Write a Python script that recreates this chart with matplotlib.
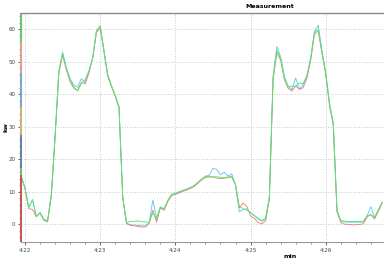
import matplotlib
matplotlib.use("Agg")
import matplotlib.pyplot as plt
import numpy as np
from matplotlib.ticker import MultipleLocator, FuncFormatter

# sample times, seconds after 4:22:00 (one reading every 3 s)
t_start = -3
t_step = 3

red_kw = [14.6, 11.0, 4.8, 4.5, 2.3, 3.4, 1.2, 0.7, 8.5, 26.5,
          46.5, 52.0, 47.5, 43.8, 41.8, 41.2, 43.6, 43.2, 46.5, 51.0,
          59.0, 60.3, 53.0, 45.5, 42.3, 39.3, 35.8, 8.0, 0.2, -0.4,
          -0.5, -0.7, -0.9, -0.9, 0.2, 4.3, 0.6, 5.0, 4.3, 7.0,
          8.8, 9.2, 9.6, 10.1, 10.5, 11.0, 11.6, 12.6, 13.6, 14.4,
          14.5, 14.6, 14.2, 14.0, 14.2, 14.3, 14.5, 12.0, 5.0, 6.5,
          5.5, 2.5, 1.8, 0.5, 0.1, 1.0, 7.5, 44.5, 52.7, 50.5,
          44.5, 41.8, 41.0, 42.6, 41.5, 42.0, 45.0, 50.5, 58.5, 59.5,
          52.5, 46.0, 36.5, 30.5, 3.8, 0.5, 0.0, -0.1, -0.2, -0.2,
          -0.1, 0.1, 2.2, 3.0, 1.6, 4.0, 6.5]

blue_kw = [14.6, 11.2, 5.2, 7.6, 2.4, 3.6, 1.5, 1.1, 9.0, 27.0,
           47.0, 53.0, 48.0, 44.8, 42.8, 42.2, 44.8, 43.6, 47.0, 51.2,
           59.4, 61.0, 53.6, 46.0, 42.6, 39.6, 36.2, 8.2, 0.3, -0.2,
           -0.3, -0.4, -0.5, -0.5, 0.4, 7.4, 1.8, 5.3, 4.6, 7.2,
           9.0, 9.3, 9.8, 10.3, 10.7, 11.2, 11.8, 12.8, 13.8, 14.8,
           15.0, 17.2, 16.8, 15.2, 16.0, 14.8, 15.5, 12.0, 3.8, 4.5,
           4.7, 3.5, 2.6, 1.6, 0.9, 1.6, 8.0, 45.5, 54.7, 51.5,
           45.5, 42.5, 41.4, 45.0, 41.5, 43.0, 45.5, 51.0, 59.3, 61.3,
           53.5, 46.5, 37.0, 31.0, 4.0, 1.0, 0.7, 0.6, 0.6, 0.6,
           0.6, 0.7, 2.5, 5.4, 2.0, 4.3, 6.7]

green_kw = [14.6, 11.0, 5.0, 7.5, 2.3, 3.5, 1.3, 1.0, 9.2, 27.2,
            47.2, 52.6, 48.2, 44.4, 42.2, 41.0, 43.4, 44.5, 47.2, 51.0,
            59.6, 61.0, 53.4, 46.0, 42.6, 39.6, 36.2, 8.4, 0.6, 0.8,
            0.9, 1.0, 0.8, 0.7, 0.6, 3.4, 1.6, 5.2, 4.7, 7.4,
            9.2, 9.6, 10.0, 10.4, 10.8, 11.3, 11.9, 12.9, 13.9, 14.7,
            14.6, 14.5, 14.6, 14.4, 14.3, 14.5, 14.8, 12.2, 5.5, 4.8,
            4.3, 3.6, 2.7, 1.8, 1.1, 1.8, 8.5, 45.2, 53.5, 51.0,
            45.0, 42.3, 42.5, 42.5, 43.5, 43.2, 45.8, 51.2, 59.0, 60.0,
            53.0, 46.5, 37.2, 31.2, 4.3, 1.2, 0.9, 0.8, 0.8, 0.8,
            0.8, 0.9, 2.6, 2.8, 2.1, 4.4, 6.8]

# coloured pieces of the stacked left axis line (value ranges)
axis_bands = [(56, 65, '#6cc46c'), (46.6, 56, '#e0a090'), (36, 46.6, '#78a8cc'),
              (27.5, 36, '#c8b478'), (17.3, 27.5, '#6a84a4'), (15, 17.3, '#6cc46c'),
              (-5.5, 15, '#c45a5a')]

t = t_start + t_step * np.arange(len(red_kw))

fig = plt.figure(figsize=(3.84, 2.62), dpi=100)
ax = fig.add_axes([21 / 384, 1 - 242 / 262, 1 - 21 / 384, (242 - 13) / 262])

ax.plot(t, blue_kw, color='#66c8ee', lw=0.65)
ax.plot(t, red_kw, color='#f27c7c', lw=0.65)
ax.plot(t, green_kw, color='#4cee6c', lw=0.65)

ax.set_xlim(-3.2, 286.5)
ax.set_ylim(-5.5, 65)

ax.xaxis.set_major_locator(MultipleLocator(60))
ax.xaxis.set_minor_locator(MultipleLocator(12))
ax.xaxis.set_major_formatter(FuncFormatter(lambda v, p: '4:%02d' % (22 + int(round(v / 60)))))
ax.yaxis.set_major_locator(MultipleLocator(10))
ax.yaxis.set_minor_locator(MultipleLocator(2))

ax.grid(True, which='major', color='#c8c8c8', linestyle=':', lw=0.7)
ax.tick_params(axis='both', which='major', labelsize=4, colors='#444444', length=2, width=0.6, pad=2)
ax.tick_params(axis='both', which='minor', length=1.5, width=0.5, colors='#666666')

ax.spines['right'].set_visible(False)
ax.spines['top'].set_color('#888888')
ax.spines['top'].set_linewidth(1.0)
ax.spines['bottom'].set_color('#999999')
ax.spines['bottom'].set_linewidth(0.8)
ax.spines['left'].set_visible(False)

tr = ax.get_yaxis_transform()
for lo, hi, c in axis_bands:
    ax.plot([0, 0], [lo, hi], color=c, lw=1.5, transform=tr, clip_on=False, solid_capstyle='butt')

fig.text(270 / 384, 1 - 6 / 262, 'Measurement', fontsize=4.5, fontweight='bold', ha='center', va='center')
fig.text(290 / 384, 1 - 256 / 262, 'min', fontsize=4.5, fontweight='bold', ha='center', va='center')
fig.text(6 / 384, 1 - 127 / 262, 'kw', fontsize=4.5, fontweight='bold', rotation=90, ha='center', va='center')

fig.savefig('out.png', dpi=100)
